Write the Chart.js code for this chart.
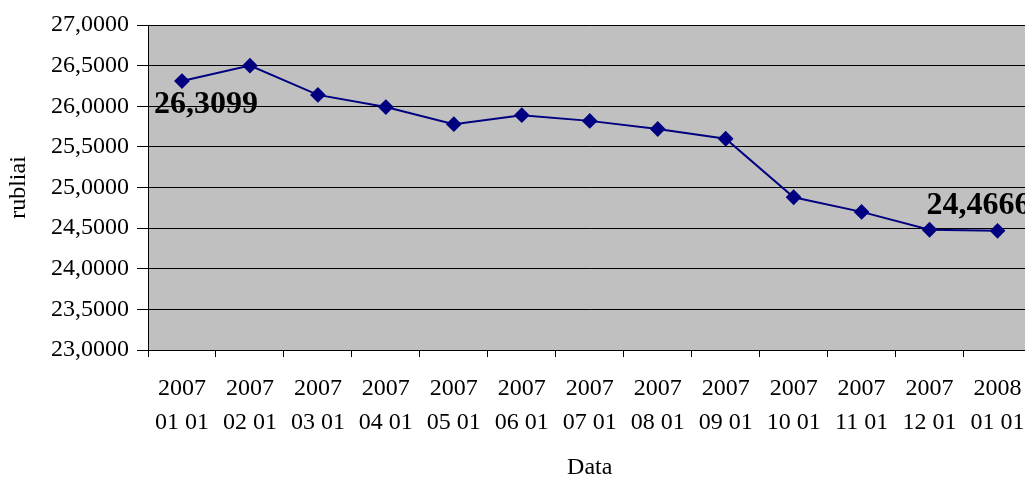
<!DOCTYPE html>
<html>
<head>
<meta charset="utf-8">
<script src="https://cdn.jsdelivr.net/npm/chart.js@4/dist/chart.umd.min.js"></script>
<style>
  html, body { margin: 0; padding: 0; background: #fff; overflow: hidden; }
  #wrap { width: 1040px; height: 477px; }
</style>
</head>
<body>
<div id="wrap"><canvas id="chart" width="1040" height="477"></canvas></div>
<script>
// monthly rate, first day of each month
const dates = [
  ['2007', '01 01'], ['2007', '02 01'], ['2007', '03 01'], ['2007', '04 01'],
  ['2007', '05 01'], ['2007', '06 01'], ['2007', '07 01'], ['2007', '08 01'],
  ['2007', '09 01'], ['2007', '10 01'], ['2007', '11 01'], ['2007', '12 01'],
  ['2008', '01 01'],
];
const rates = [26.3099, 26.50, 26.14, 25.99, 25.78, 25.89, 25.82, 25.72, 25.60, 24.88, 24.70, 24.48, 24.4666];
const yTicks = [23, 23.5, 24, 24.5, 25, 25.5, 26, 26.5, 27];
const labelled = [0, 12];

const serif = '"Liberation Serif", "Times New Roman", serif';
const fmt = (v) => Number(v).toFixed(4).replace('.', ',');

const plotBg = {
  id: 'plotBg',
  beforeDraw(chart) {
    const { ctx, chartArea: a } = chart;
    ctx.save();
    ctx.fillStyle = '#c0c0c0';
    ctx.fillRect(a.left, a.top, a.right - a.left, a.bottom - a.top);
    ctx.restore();
  },
};

// value labels on the first and last point
const pointLabels = {
  id: 'pointLabels',
  afterDatasetsDraw(chart) {
    const { ctx } = chart;
    const meta = chart.getDatasetMeta(0);
    const offs = { 0: [24, 32], 12: [-19, -17] };
    ctx.save();
    ctx.font = 'bold 32px ' + serif;
    ctx.fillStyle = '#000';
    ctx.textAlign = 'center';
    ctx.textBaseline = 'alphabetic';
    for (const i of labelled) {
      const p = meta.data[i];
      const [dx, dy] = offs[i];
      ctx.fillText(fmt(rates[i]), p.x + dx, p.y + dy);
    }
    ctx.restore();
  },
};

new Chart(document.getElementById('chart'), {
  type: 'line',
  data: {
    labels: dates,
    datasets: [{
      data: rates,
      borderColor: '#000080',
      backgroundColor: '#000080',
      borderWidth: 2,
      tension: 0,
      pointStyle: 'rectRot',
      pointRadius: 6.5,
      pointHoverRadius: 6.5,
    }],
  },
  options: {
    responsive: false,
    animation: false,
    events: [],
    layout: { padding: { top: 25, right: 7, left: 0, bottom: 0 } },
    plugins: { legend: { display: false }, tooltip: { enabled: false } },
    scales: {
      x: {
        type: 'category',
        offset: true,
        afterFit: (s) => { s.height = 127; },
        grid: { offset: true, drawOnChartArea: false, drawTicks: true, tickLength: 7, color: '#000' },
        border: { color: '#000', width: 1 },
        ticks: { color: '#000', maxRotation: 0, autoSkip: false, padding: 15, font: { family: serif, size: 24, lineHeight: 1.4 } },
        title: { display: true, text: 'Data', color: '#000', padding: { top: 0, bottom: 0 }, font: { family: serif, size: 24, lineHeight: 0.8 } },
      },
      y: {
        min: 23,
        max: 27,
        afterFit: (s) => { s.width = 148; },
        afterBuildTicks: (s) => { s.ticks = yTicks.map((v) => ({ value: v })); },
        grid: { color: '#000', tickLength: 11, drawTicks: true },
        border: { color: '#000', width: 1 },
        ticks: { color: '#000', padding: 8, callback: (v) => fmt(v), font: { family: serif, size: 24 } },
        title: { display: true, text: 'rubliai', color: '#000', padding: { top: 4, bottom: 0 }, font: { family: serif, size: 24 } },
      },
    },
  },
  plugins: [plotBg, pointLabels],
});
</script>
</body>
</html>
